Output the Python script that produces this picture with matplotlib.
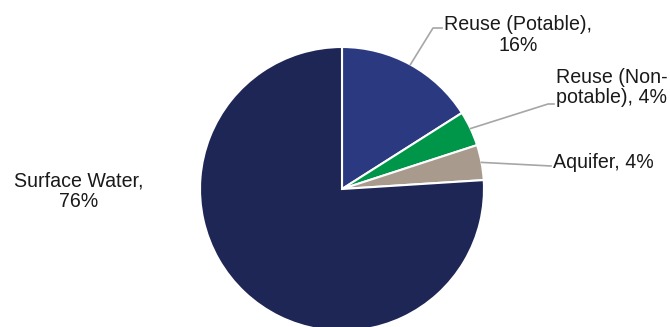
import numpy as np
import matplotlib
matplotlib.use('Agg')
import matplotlib.pyplot as plt

plt.rcParams['font.family'] = ['Liberation Sans', 'DejaVu Sans']

# data (clockwise from 12 o'clock)
categorias = ['Reuse (Potable)', 'Reuse (Non-\npotable)', 'Aquifer', 'Surface Water']
valores = [16, 4, 4, 76]
colores = ['#2B3A80', '#00964A', '#A89B8E', '#1E2656']

# layout in pixels (y measured upward)
W, H = 670, 327
centro = (342, 138)
radio = 142
gris = '#A6A6A6'

fig = plt.figure(figsize=(W / 100, H / 100), dpi=100)
ax = fig.add_axes([0, 0, 1, 1])
wedges, _ = ax.pie(valores, colors=colores, startangle=90, counterclock=False,
                   center=centro, radius=radio,
                   wedgeprops=dict(edgecolor='white', linewidth=1.5))
ax.set_xlim(0, W)
ax.set_ylim(0, H)
ax.set_aspect('equal')
ax.axis('off')

def borde(w):
    ang = np.deg2rad((w.theta1 + w.theta2) / 2)
    return centro[0] + radio * np.cos(ang), centro[1] + radio * np.sin(ang)

fs = 14.1
ls = 1.12
tc = '#1a1a1a'
textos = ['{},\n{}%'.format(categorias[0], valores[0]),
          '{}, {}%'.format(categorias[1], valores[1]),
          '{}, {}%'.format(categorias[2], valores[2]),
          '{},\n{}%'.format(categorias[3], valores[3])]

# Reuse (Potable)
x0, y0 = borde(wedges[0])
ax.plot([x0, 433, 442], [y0, 299, 299], color=gris, lw=1.2)
ax.text(518, 292, textos[0], ha='center', va='center', fontsize=fs,
        linespacing=ls, color=tc)

# Reuse (Non-potable)
x0, y0 = borde(wedges[1])
ax.plot([x0, 548, 554], [y0, 223, 223], color=gris, lw=1.2)
ax.text(556, 239.5, textos[1], ha='left', va='center', fontsize=fs,
        linespacing=ls, color=tc)

# Aquifer
x0, y0 = borde(wedges[2])
ax.plot([x0, 551], [y0, 161], color=gris, lw=1.2)
ax.text(553, 164, textos[2], ha='left', va='center', fontsize=fs, color=tc)

# Surface Water
ax.text(79, 136, textos[3], ha='center', va='center', fontsize=fs,
        linespacing=ls, color=tc)

fig.savefig('out.png', dpi=100)
